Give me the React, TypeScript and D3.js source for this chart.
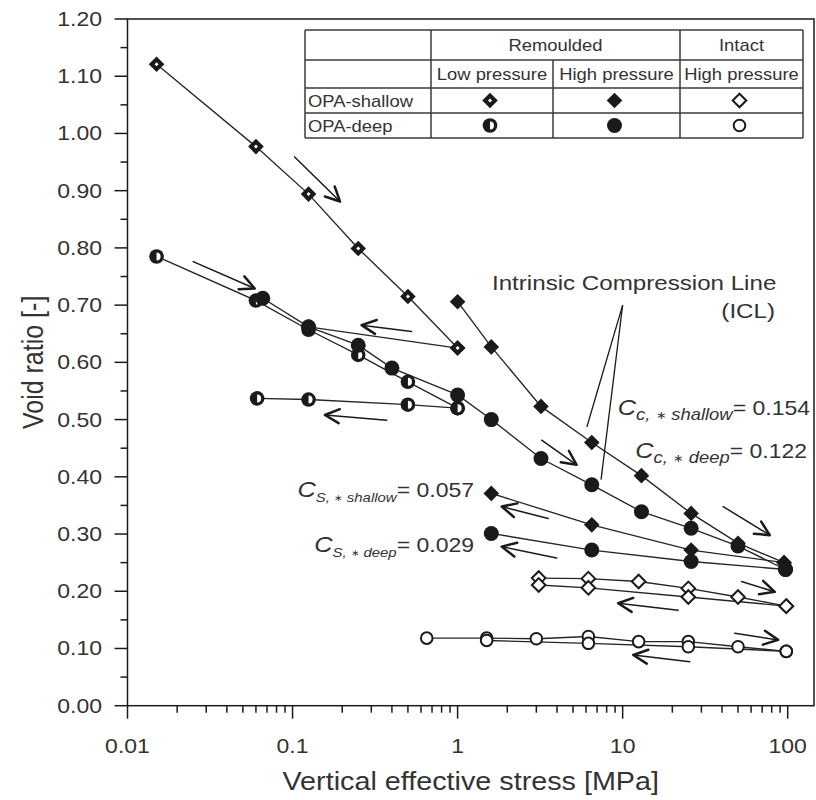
import React from "react";
import * as d3 from "d3";

// ---- figure size & fonts ----
const W = 816;
const H = 800;
const STRETCH = 1.15; // wide lettering used throughout the figure
const FONT = "'Liberation Sans', Arial, Helvetica, sans-serif";
const INK = "#1a1a1a";
const TEXT = "#333333";

// ---- axes ----
const xTickValues = [0.01, 0.1, 1, 10, 100];
const xTickLabels = ["0.01", "0.1", "1", "10", "100"];
const yTickLabels = ["0.00", "0.10", "0.20", "0.30", "0.40", "0.50", "0.60", "0.70", "0.80", "0.90", "1.00", "1.10", "1.20"];
const xTitle = "Vertical effective stress [MPa]";
const yTitle = "Void ratio [-]";

// ---- OPA-shallow, remoulded, low pressure ----
const shallowLowLoadStress = [0.015, 0.06, 0.125, 0.25, 0.5, 1];
const shallowLowLoadVoid = [1.121, 0.977, 0.894, 0.799, 0.715, 0.625];
const shallowLowUnloadStress = [1, 0.125];
const shallowLowUnloadVoid = [0.625, 0.662];

// ---- OPA-deep, remoulded, low pressure ----
const deepLowLoadStress = [0.015, 0.06, 0.125, 0.25, 0.5, 1];
const deepLowLoadVoid = [0.785, 0.708, 0.657, 0.613, 0.566, 0.52];
const deepLowUnloadStress = [1, 0.5, 0.125, 0.061];
const deepLowUnloadVoid = [0.52, 0.526, 0.535, 0.537];

// ---- OPA-shallow, remoulded, high pressure ----
const shallowHighLoadStress = [1, 1.6, 3.2, 6.5, 13, 26, 50, 95];
const shallowHighLoadVoid = [0.706, 0.627, 0.523, 0.46, 0.402, 0.336, 0.284, 0.25];
const shallowHighUnloadStress = [95, 26, 6.5, 1.6];
const shallowHighUnloadVoid = [0.25, 0.272, 0.316, 0.371];

// ---- OPA-deep, remoulded, high pressure ----
const deepHighLoadStress = [0.066, 0.125, 0.25, 0.4, 1, 1.6, 3.2, 6.5, 13, 26, 50, 97];
const deepHighLoadVoid = [0.712, 0.662, 0.63, 0.59, 0.543, 0.5, 0.432, 0.386, 0.339, 0.31, 0.279, 0.238];
const deepHighUnloadStress = [97, 26, 6.5, 1.6];
const deepHighUnloadVoid = [0.238, 0.252, 0.272, 0.301];

// ---- OPA-shallow, intact, high pressure ----
const shallowIntactLoadStress = [3.1, 6.2, 12.5, 25, 50, 98];
const shallowIntactLoadVoid = [0.223, 0.222, 0.217, 0.205, 0.19, 0.174];
const shallowIntactUnloadStress = [98, 25, 6.2, 3.1];
const shallowIntactUnloadVoid = [0.174, 0.19, 0.206, 0.211];

// ---- OPA-deep, intact, high pressure ----
const deepIntactLoadStress = [0.65, 1.5, 3.0, 6.2, 12.5, 25, 50, 98];
const deepIntactLoadVoid = [0.118, 0.118, 0.117, 0.121, 0.112, 0.112, 0.103, 0.095];
const deepIntactUnloadStress = [98, 25, 6.2, 1.5];
const deepIntactUnloadVoid = [0.095, 0.103, 0.109, 0.114];

// ---- loading / unloading direction arrows: [stress, void] tail -> head ----
const arrowTails = [
  [0.103, 0.959], [0.025, 0.776], [0.526, 0.654], [0.372, 0.499],
  [3.23, 0.464], [40.6, 0.348], [3.54, 0.327], [3.98, 0.258],
  [52.5, 0.217], [21.7, 0.167], [47.8, 0.1265], [25.5, 0.077],
];
const arrowHeads = [
  [0.194, 0.881], [0.059, 0.729], [0.262, 0.665], [0.157, 0.508],
  [5.26, 0.421], [77.9, 0.298], [1.85, 0.348], [1.85, 0.278],
  [83.5, 0.199], [9.39, 0.179], [87.5, 0.115], [11.6, 0.0886],
];

// ---- ICL annotation leader lines ----
const iclLeaderStart = [10.0, 0.7];
const iclLeaderEnds = [[6.07, 0.487], [7.4, 0.395]];

// ---- compression / swelling index labels ----
const indexSubLetters = ["c", "c", "S", "S"];
const indexSubNames = ["shallow", "deep", "shallow", "deep"];
const indexValues = ["0.154", "0.122", "0.057", "0.029"];

// ---- legend table ----
const legendHeaderGroups = ["Remoulded", "Intact"];
const legendColumns = ["Low pressure", "High pressure", "High pressure"];
const legendRows = ["OPA-shallow", "OPA-deep"];
const legendKinds = [
  ["shallowLow", "shallowHigh", "shallowIntact"],
  ["deepLow", "deepHigh", "deepIntact"],
];

// ---- scales ----
const plotLeft = 127.5;
const plotRight = 814;
const plotTop = 19;
const plotBottom = 705.7;
const x = d3.scaleLog().domain([0.01, 100]).range([plotLeft, 787.7]);
const y = d3.scaleLinear().domain([0, 1.2]).range([plotBottom, plotTop]);

type Kind = "shallowLow" | "shallowHigh" | "shallowIntact" | "deepLow" | "deepHigh" | "deepIntact";

const curves: { kind: Kind; s: number[]; e: number[] }[] = [
  { kind: "shallowLow", s: shallowLowLoadStress, e: shallowLowLoadVoid },
  { kind: "shallowLow", s: shallowLowUnloadStress, e: shallowLowUnloadVoid },
  { kind: "deepLow", s: deepLowLoadStress, e: deepLowLoadVoid },
  { kind: "deepLow", s: deepLowUnloadStress, e: deepLowUnloadVoid },
  { kind: "shallowHigh", s: shallowHighLoadStress, e: shallowHighLoadVoid },
  { kind: "shallowHigh", s: shallowHighUnloadStress, e: shallowHighUnloadVoid },
  { kind: "deepHigh", s: deepHighLoadStress, e: deepHighLoadVoid },
  { kind: "deepHigh", s: deepHighUnloadStress, e: deepHighUnloadVoid },
  { kind: "shallowIntact", s: shallowIntactLoadStress, e: shallowIntactLoadVoid },
  { kind: "shallowIntact", s: shallowIntactUnloadStress, e: shallowIntactUnloadVoid },
  { kind: "deepIntact", s: deepIntactLoadStress, e: deepIntactLoadVoid },
  { kind: "deepIntact", s: deepIntactUnloadStress, e: deepIntactUnloadVoid },
];

const line = d3
  .line<[number, number]>()
  .x((d) => x(d[0]))
  .y((d) => y(d[1]));

function diamond(r: number) {
  return `M0,${-r}L${r},0L0,${r}L${-r},0Z`;
}

function Marker({ kind, cx, cy }: { kind: Kind; cx: number; cy: number }) {
  const t = `translate(${cx},${cy})`;
  switch (kind) {
    case "shallowLow":
      return (
        <g transform={t}>
          <path d={diamond(7.8)} fill={INK} />
          <path d={diamond(2)} fill="#fff" />
        </g>
      );
    case "shallowHigh":
      return <path transform={t} d={diamond(7.8)} fill={INK} />;
    case "shallowIntact":
      return <path transform={t} d={diamond(6.8)} fill="#fff" stroke={INK} strokeWidth={2} />;
    case "deepLow":
      return (
        <g transform={t}>
          <circle r={7.3} fill={INK} />
          <path d="M0,-4A4,4 0 0 1 0,4Z" fill="#fff" />
        </g>
      );
    case "deepHigh":
      return <circle transform={t} r={7.5} fill={INK} />;
    case "deepIntact":
      return <circle transform={t} r={5.8} fill="#fff" stroke={INK} strokeWidth={2} />;
  }
  return null;
}

function SText({
  px,
  py,
  size,
  anchor = "start",
  rotate,
  children,
}: {
  px: number;
  py: number;
  size: number;
  anchor?: "start" | "middle" | "end";
  rotate?: number;
  children: React.ReactNode;
}) {
  const tr = `translate(${px},${py}) scale(${STRETCH},1)` + (rotate ? ` rotate(${rotate})` : "");
  return (
    <text transform={tr} fontSize={size} textAnchor={anchor} fontFamily={FONT} fill={TEXT}>
      {children}
    </text>
  );
}

function Arrow({ tail, head }: { tail: number[]; head: number[] }) {
  const x1 = x(tail[0]);
  const y1 = y(tail[1]);
  const x2 = x(head[0]);
  const y2 = y(head[1]);
  const a = Math.atan2(y2 - y1, x2 - x1);
  const len = 16;
  const spread = (26 * Math.PI) / 180;
  const p1 = [x2 - len * Math.cos(a - spread), y2 - len * Math.sin(a - spread)];
  const p2 = [x2 - len * Math.cos(a + spread), y2 - len * Math.sin(a + spread)];
  return (
    <g stroke={INK} fill="none" strokeLinecap="round" strokeLinejoin="round">
      <line x1={x1} y1={y1} x2={x2} y2={y2} strokeWidth={1.5} />
      <path d={`M${p1[0]},${p1[1]}L${x2},${y2}L${p2[0]},${p2[1]}`} strokeWidth={2.5} />
    </g>
  );
}

export default function App() {
  const xTicksAll = x.ticks();
  const yMajor = yTickLabels.map((l) => +l);
  const yMinor = yMajor.slice(0, -1).map((v) => v + 0.05);

  // legend geometry
  const colX = [305, 431, 553, 680, 803];
  const rowY = [30, 60, 88, 113, 138];
  const colCenter = (i: number) => (colX[i] + colX[i + 1]) / 2;
  const rowCenter = (i: number) => (rowY[i] + rowY[i + 1]) / 2;

  const indexAnchors = [
    { px: 810, py: 415, sub: 16 },
    { px: 807, py: 458, sub: 16 },
    { px: 474, py: 497, sub: 13 },
    { px: 474, py: 552, sub: 13 },
  ];

  return (
    <svg
      width={W}
      height={H}
      viewBox={`0 0 ${W} ${H}`}
      style={{ position: "absolute", left: 0, top: 0, background: "#fff", display: "block" }}
    >
      <rect width={W} height={H} fill="#fff" />

      {/* frame */}
      <rect
        x={plotLeft}
        y={plotTop}
        width={plotRight - plotLeft}
        height={plotBottom - plotTop}
        fill="none"
        stroke={INK}
        strokeWidth={1.5}
      />

      {/* y axis ticks and labels */}
      {yMajor.map((v, i) => (
        <g key={"ym" + i}>
          <line x1={plotLeft - 13} x2={plotLeft} y1={y(v)} y2={y(v)} stroke={INK} strokeWidth={1.5} />
          <SText px={102} py={y(v) + 7} size={20} anchor="end">
            {yTickLabels[i]}
          </SText>
        </g>
      ))}
      {yMinor.map((v, i) => (
        <line key={"yn" + i} x1={plotLeft - 7} x2={plotLeft} y1={y(v)} y2={y(v)} stroke={INK} strokeWidth={1.5} />
      ))}

      {/* x axis ticks and labels */}
      {xTicksAll.map((v, i) => {
        const major = xTickValues.some((m) => Math.abs(m - v) / m < 1e-6);
        return (
          <line
            key={"xt" + i}
            x1={x(v)}
            x2={x(v)}
            y1={plotBottom}
            y2={plotBottom + (major ? 13 : 7)}
            stroke={INK}
            strokeWidth={1.5}
          />
        );
      })}
      {xTickValues.map((v, i) => (
        <SText key={"xl" + i} px={x(v)} py={753} size={20} anchor="middle">
          {xTickLabels[i]}
        </SText>
      ))}

      {/* axis titles */}
      <SText px={(plotLeft + plotRight) / 2} py={790} size={25} anchor="middle">
        {xTitle}
      </SText>
      <SText px={43} py={(plotTop + plotBottom) / 2} size={25} anchor="middle" rotate={-90}>
        {yTitle}
      </SText>

      {/* test curves */}
      {curves.map((c, i) => (
        <path
          key={"c" + i}
          d={line(c.s.map((s, j) => [s, c.e[j]] as [number, number])) || ""}
          fill="none"
          stroke="#262626"
          strokeWidth={1.35}
        />
      ))}
      {curves.map((c, i) =>
        c.s.map((s, j) => <Marker key={`m${i}-${j}`} kind={c.kind} cx={x(s)} cy={y(c.e[j])} />)
      )}

      {/* direction arrows */}
      {arrowTails.map((t, i) => (
        <Arrow key={"a" + i} tail={t} head={arrowHeads[i]} />
      ))}

      {/* ICL annotation */}
      {iclLeaderEnds.map((p, i) => (
        <line
          key={"icl" + i}
          x1={x(iclLeaderStart[0])}
          y1={y(iclLeaderStart[1])}
          x2={x(p[0])}
          y2={y(p[1])}
          stroke={INK}
          strokeWidth={1.3}
        />
      ))}
      <SText px={492} py={290} size={21}>
        Intrinsic Compression Line
      </SText>
      <SText px={775} py={318} size={21} anchor="end">
        (ICL)
      </SText>

      {/* compression / swelling indices */}
      {indexAnchors.map((a, i) => (
        <SText key={"ix" + i} px={a.px} py={a.py} size={20} anchor="end">
          <tspan fontStyle="italic" fontSize={22}>
            C
          </tspan>
          <tspan fontStyle="italic" fontSize={a.sub} dy={5}>
            {indexSubLetters[i]},{" "}
          </tspan>
          <tspan fontSize={a.sub * 0.7} dy={-1}>
            {"\u2217"}
          </tspan>
          <tspan fontStyle="italic" fontSize={a.sub} dy={1}>
            {" " + indexSubNames[i]}
          </tspan>
          <tspan dy={-5}>= {indexValues[i]}</tspan>
        </SText>
      ))}

      {/* legend table */}
      <g>
        <rect x={colX[0]} y={rowY[0]} width={colX[4] - colX[0]} height={rowY[4] - rowY[0]} fill="#fff" />
        {rowY.map((ry, i) => (
          <line key={"lr" + i} x1={colX[0]} x2={colX[4]} y1={ry} y2={ry} stroke="#3a3a3a" strokeWidth={1.5} />
        ))}
        {colX.map((cx, i) => (
          <line
            key={"lc" + i}
            x1={cx}
            x2={cx}
            y1={i === 2 ? rowY[1] : rowY[0]}
            y2={rowY[4]}
            stroke="#3a3a3a"
            strokeWidth={1.5}
          />
        ))}
        <SText px={(colX[1] + colX[3]) / 2} py={51} size={16} anchor="middle">
          {legendHeaderGroups[0]}
        </SText>
        <SText px={colCenter(3)} py={51} size={16} anchor="middle">
          {legendHeaderGroups[1]}
        </SText>
        {legendColumns.map((c, i) => (
          <SText key={"lh" + i} px={colCenter(i + 1)} py={80} size={16} anchor="middle">
            {c}
          </SText>
        ))}
        {legendRows.map((r, i) => (
          <SText key={"lrt" + i} px={308} py={rowCenter(i + 2) + 6} size={16}>
            {r}
          </SText>
        ))}
        {legendKinds.map((row, i) =>
          row.map((k, j) => (
            <Marker key={`lk${i}-${j}`} kind={k as Kind} cx={colCenter(j + 1) - 2} cy={rowCenter(i + 2)} />
          ))
        )}
      </g>
    </svg>
  );
}
